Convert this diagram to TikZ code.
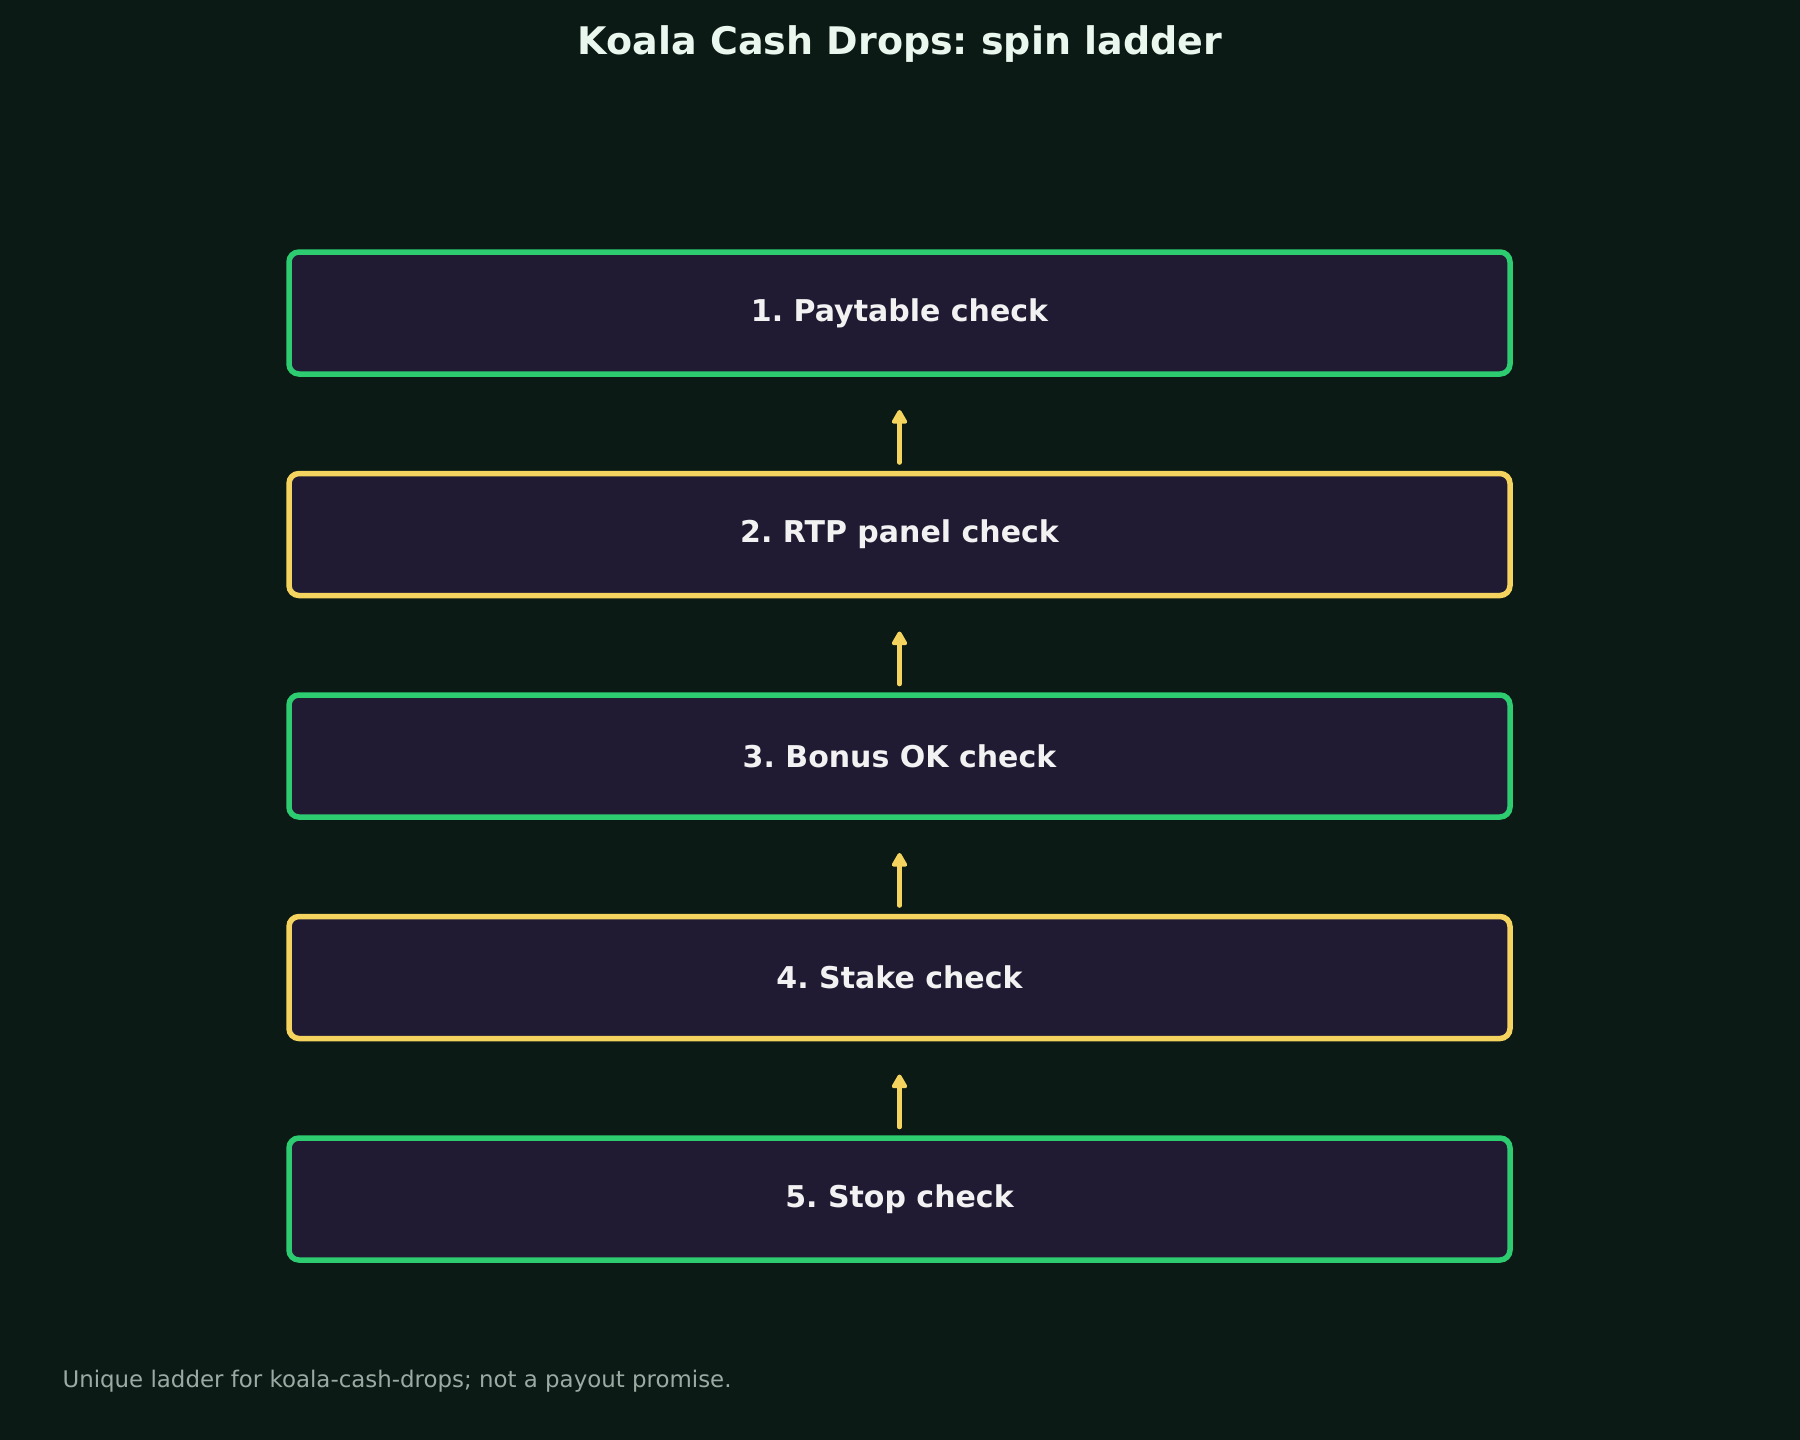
\documentclass[tikz,border=0pt]{standalone}
\usepackage{fontspec}
\setmainfont{DejaVu Sans}
\usetikzlibrary{arrows.meta}
\definecolor{bgc}{HTML}{0B1A15}
\definecolor{boxfill}{HTML}{211A33}
\definecolor{grn}{HTML}{2ECC71}
\definecolor{ylw}{HTML}{F4D35E}
\definecolor{titlec}{HTML}{EAF7EE}
\definecolor{txtc}{HTML}{F2F2F2}
\definecolor{footc}{HTML}{9BAAA2}
\begin{document}
\frenchspacing
\begin{tikzpicture}[x=1pt,y=-1pt,
  stepbox/.style={draw, line width=5.5pt, fill=boxfill, rounded corners=10pt,
    minimum width=1221pt, minimum height=122pt, inner sep=0pt, outer sep=0pt,
    text=txtc, font=\fontsize{30}{34}\selectfont\bfseries},
  gbox/.style={stepbox, draw=grn},
  ybox/.style={stepbox, draw=ylw},
  conn/.style={draw=ylw, line width=4.5pt, line cap=round,
    -{Triangle[length=16pt,width=17pt,round]}}]
\fill[bgc] (0,0) rectangle (1800,1440);
\useasboundingbox (0,0) rectangle (1800,1440);
\node[text=titlec, font=\fontsize{38}{44}\selectfont\bfseries] (title) at (900,44) {Koala Cash Drops: spin ladder};
\node[gbox] (b1) at (899.5,313) {1. Paytable check};
\node[ybox] (b2) at (899.5,534.5) {2. RTP panel check};
\node[gbox] (b3) at (899.5,756) {3. Bonus OK check};
\node[ybox] (b4) at (899.5,977.5) {4. Stake check};
\node[gbox] (b5) at (899.5,1199) {5. Stop check};
\draw[conn] ([yshift=11pt]b2.north) -- ([yshift=-36pt]b1.south);
\draw[conn] ([yshift=11pt]b3.north) -- ([yshift=-36pt]b2.south);
\draw[conn] ([yshift=11pt]b4.north) -- ([yshift=-36pt]b3.south);
\draw[conn] ([yshift=11pt]b5.north) -- ([yshift=-36pt]b4.south);
\node[anchor=west, text=footc, font=\fontsize{22.9}{27}\selectfont] (foot) at (59,1381) {Unique ladder for koala-cash-drops; not a payout promise.};
\end{tikzpicture}
\end{document}
